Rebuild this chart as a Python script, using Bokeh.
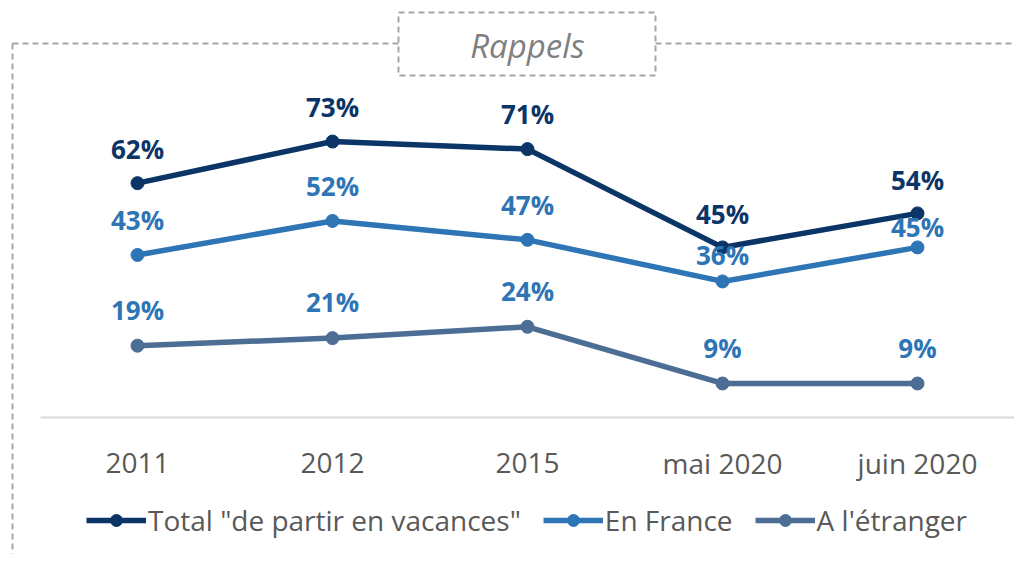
from bokeh.plotting import figure
from bokeh.models import Range1d, Legend, LegendItem, ColumnDataSource
from bokeh.core.properties import value
from bokeh.embed import file_html
from bokeh.resources import INLINE

# ---------------- data ----------------
categories = ["2011", "2012", "2015", "mai 2020", "juin 2020"]
total = [62, 73, 71, 45, 54]
france = [43, 52, 47, 36, 45]
etranger = [19, 21, 24, 9, 9]
series_names = ['Total "de partir en vacances"', "En France", "A l'étranger"]
title_text = "Rappels"

# ---------------- styles ----------------
colors = ["#0B3566", "#2E75B6", "#4D6E94"]
label_colors = ["#0B3566", "#2E75B6", "#2E75B6"]
label_offsets = [[-34, -35, -35, -33, -33],
                 [-35, -35, -35, -26, -20],
                 [-36, -36, -36, -35, -35]]
FONT = "Open Sans"
GREY_TXT = "#595959"
DASH_COL = "#A6A6A6"

# ---------------- canvas geometry (pixels) ----------------
W, H = 1014, 554
X0, DX = 137, 195      # pixel of first category, pixel step between categories
Y0, DY = 417, 3.78     # pixel of value 0, pixels per percent point


def dx(px):
    return (px - X0) / DX


def dy(py):
    return (Y0 - py) / DY


p = figure(width=W, height=H,
           x_range=Range1d(dx(0), dx(W)), y_range=Range1d(dy(H), dy(0)),
           x_axis_type=None, y_axis_type=None,
           output_backend="svg", toolbar_location=None,
           min_border=0, outline_line_color=None,
           background_fill_color="white", border_fill_color="white")

idx = list(range(len(categories)))

# baseline (category axis line)
p.line(x=[dx(40), dx(W)], y=[0, 0], line_color="#D9D9D9", line_width=2)

# category labels
p.text(x=idx, y=[0] * len(idx), text=categories, y_offset=45,
       text_font=value(FONT), text_font_size="28px", text_color=GREY_TXT,
       text_align="center", text_baseline="middle")

# series
items = []
for name, vals, col, lcol, offs in zip(series_names, [total, france, etranger],
                                        colors, label_colors, label_offsets):
    src = ColumnDataSource(dict(x=idx, y=vals, lab=[f"{v}%" for v in vals], off=offs))
    rl = p.line("x", "y", source=src, line_color=col, line_width=5.5)
    rs = p.scatter("x", "y", source=src, size=13, fill_color=col, line_color=col)
    items.append((name, rl, rs, src, lcol))

# data labels drawn after all lines so they sit on top
for name, rl, rs, src, lcol in items:
    p.text("x", "y", text="lab", source=src, y_offset="off",
           text_font=value(FONT), text_font_style="bold", text_font_size="26px",
           text_color=lcol, text_align="center", text_baseline="middle")

# dashed frame & title box
dash = dict(line_color=DASH_COL, line_width=2, line_dash="6 4")
p.line(x=[dx(12), dx(12)], y=[dy(43), dy(H)], **dash)
p.line(x=[dx(12), dx(398)], y=[dy(43), dy(43)], **dash)
p.line(x=[dx(655), dx(W)], y=[dy(43), dy(43)], **dash)
p.line(x=[dx(398), dx(655), dx(655), dx(398), dx(398)],
       y=[dy(12), dy(12), dy(75), dy(75), dy(12)], **dash)
p.text(x=[dx(527)], y=[dy(45)], text=[title_text],
       text_font=value(FONT), text_font_style="italic", text_font_size="33px",
       text_color="#7F7F7F", text_align="center", text_baseline="middle")

legend = Legend(items=[LegendItem(label=n, renderers=[rl, rs]) for n, rl, rs, _, _ in items],
                orientation="horizontal", location=(86, 15),
                glyph_width=60, glyph_height=30, label_standoff=2, spacing=22,
                padding=0, margin=0, border_line_color=None, background_fill_alpha=0,
                label_text_font=FONT, label_text_font_size="28px",
                label_text_color=GREY_TXT)
p.add_layout(legend)

open("out.html", "w").write(file_html(p, INLINE))
